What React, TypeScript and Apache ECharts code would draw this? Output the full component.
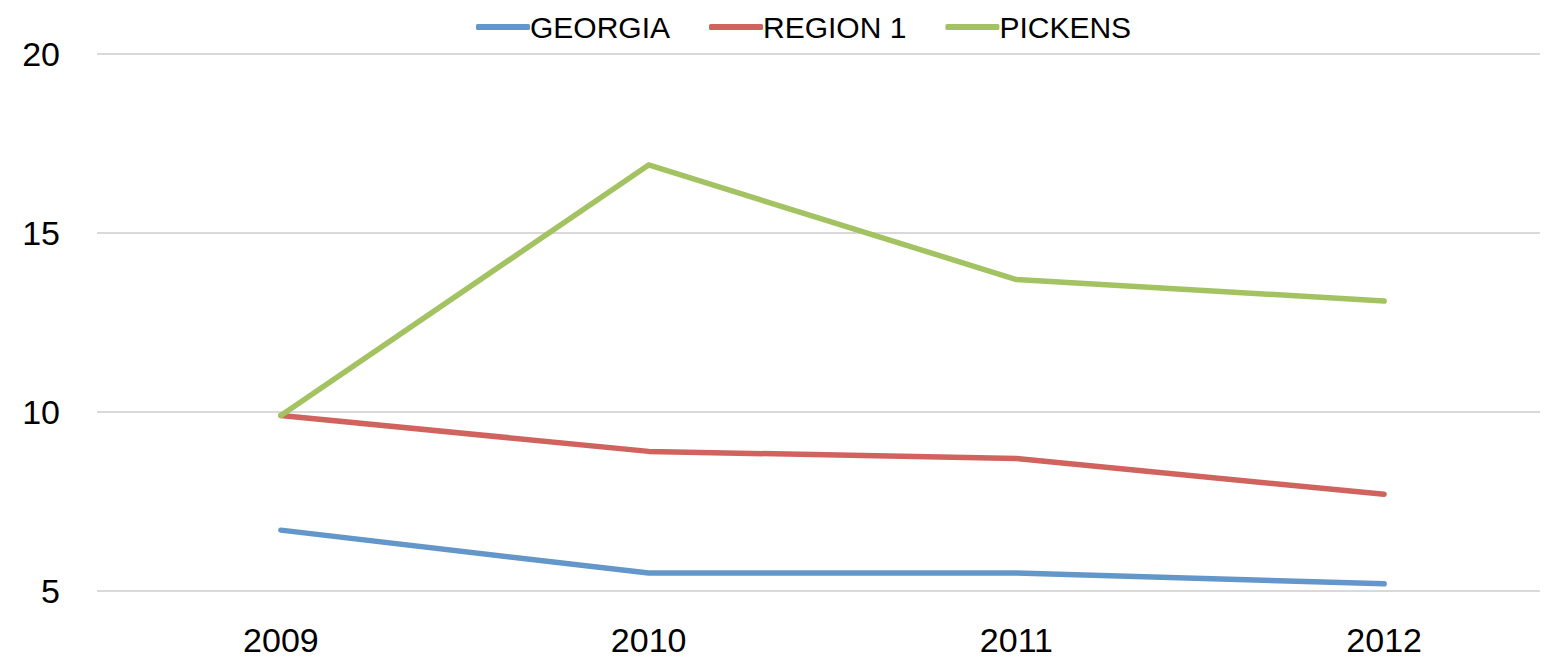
import React, { useEffect, useRef } from "react";
import * as echarts from "echarts";

const categories = ["2009", "2010", "2011", "2012"];
const georgia = [6.7, 5.5, 5.5, 5.2];
const region1 = [9.9, 8.9, 8.7, 7.7];
const pickens = [9.9, 16.9, 13.7, 13.1];
const yTicks = { min: 5, max: 20, interval: 5 };

const FONT = '"Liberation Sans", Arial, sans-serif';

export default function App() {
  const ref = useRef<HTMLDivElement>(null);
  useEffect(() => {
    if (!ref.current) return;
    const chart = echarts.init(ref.current, undefined, { renderer: "svg" });
    const mk = (name: string, data: number[], color: string) => ({
      name,
      type: "line",
      data,
      showSymbol: false,
      symbol: "none",
      lineStyle: { color, width: 5.5, cap: "round", join: "round" },
      itemStyle: { color },
    });
    chart.setOption({
      animation: false,
      backgroundColor: "#ffffff",
      textStyle: { fontFamily: FONT },
      legend: {
        top: 7,
        left: 471,
        itemWidth: 54,
        itemHeight: 6,
        itemGap: 39,
        icon: "roundRect",
        textStyle: { fontFamily: FONT, fontSize: 30, color: "#000", padding: [0, 0, 0, -5] },
        data: ["GEORGIA", "REGION 1", "PICKENS"],
      },
      grid: { left: 97, right: 0, top: 54, bottom: 71, containLabel: false },
      xAxis: {
        type: "category",
        data: categories,
        boundaryGap: true,
        axisLine: { show: false },
        axisTick: { show: false },
        axisLabel: { fontFamily: FONT, fontSize: 34, color: "#000", margin: 32 },
      },
      yAxis: {
        type: "value",
        min: yTicks.min,
        max: yTicks.max,
        interval: yTicks.interval,
        axisLine: { show: false },
        axisTick: { show: false },
        axisLabel: { fontFamily: FONT, fontSize: 34, color: "#000", margin: 37 },
        splitLine: { lineStyle: { color: "#D9D9D9", width: 2 } },
      },
      series: [
        mk("GEORGIA", georgia, "#6497C9"),
        mk("REGION 1", region1, "#D0635E"),
        mk("PICKENS", pickens, "#A3C363"),
      ],
    });
    return () => chart.dispose();
  }, []);
  return (
    <div style={{ width: 1548, height: 662, margin: -8, overflow: "hidden", position: "relative" }}>
      <div ref={ref} style={{ width: 1568, height: 662 }} />
    </div>
  );
}
